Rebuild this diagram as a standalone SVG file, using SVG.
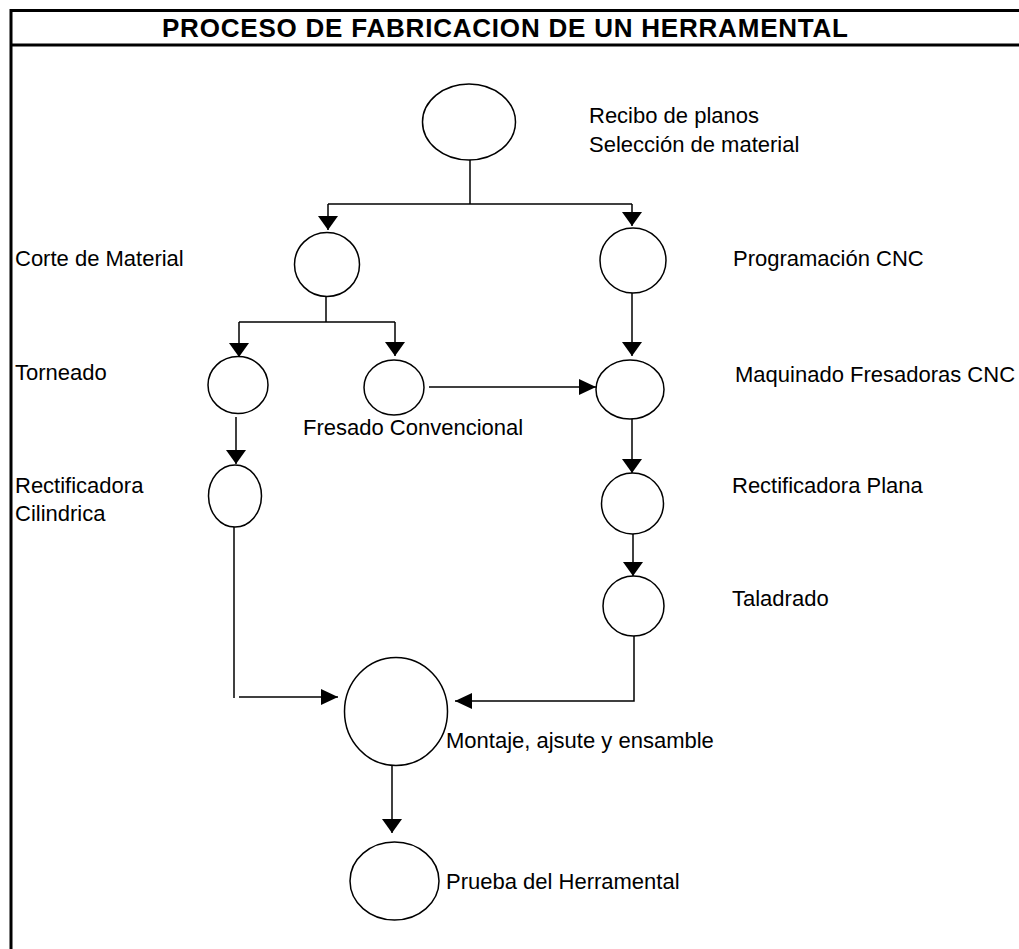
<svg xmlns="http://www.w3.org/2000/svg" width="1019" height="949" viewBox="0 0 1019 949">
  <style>
    .frame { stroke: #000; stroke-width: 3; fill: none; }
    .node { fill: #fff; stroke: #000; stroke-width: 1.5; }
    .wire { fill: none; stroke: #000; stroke-width: 1.5; }
    .arrow-v { marker-end: url(#head-v); }
    .arrow-h { marker-end: url(#head-h); }
    .label { font-family: "Liberation Sans", Arial, sans-serif; font-size: 22px; fill: #000; }
    .title { font-family: "Liberation Sans", Arial, sans-serif; font-size: 26px; font-weight: bold; fill: #000; }
  </style>
  <defs>
    <!-- vertical flow arrowhead: 14 long, 20 wide -->
    <marker id="head-v" markerUnits="userSpaceOnUse" markerWidth="14" markerHeight="20" refX="14" refY="10" orient="auto" viewBox="0 0 14 20">
      <path d="M0,0 L14,10 L0,20 Z" fill="#000"/>
    </marker>
    <!-- horizontal flow arrowhead: 17 long, 16 wide -->
    <marker id="head-h" markerUnits="userSpaceOnUse" markerWidth="17" markerHeight="16" refX="17" refY="8" orient="auto" viewBox="0 0 17 16">
      <path d="M0,0 L17,8 L0,16 Z" fill="#000"/>
    </marker>
  </defs>

  <rect width="1019" height="949" fill="#fff"/>

  <!-- sheet frame and title band -->
  <g id="frame">
    <line class="frame" x1="11" y1="9" x2="11" y2="949"/>
    <line class="frame" x1="10" y1="10.5" x2="1019" y2="10.5"/>
    <line class="frame" x1="10" y1="45" x2="1019" y2="45"/>
    <text class="title" x="505" y="37" text-anchor="middle" textLength="686" lengthAdjust="spacing">PROCESO DE FABRICACION DE UN HERRAMENTAL</text>
  </g>

  <!-- connectors -->
  <g id="connectors">
    <line class="wire" x1="470" y1="160" x2="470" y2="204"/>
    <line class="wire" x1="328" y1="204" x2="632" y2="204"/>
    <line class="wire arrow-v" x1="328" y1="204" x2="328" y2="230"/>
    <line class="wire arrow-v" x1="632" y1="204" x2="632" y2="226"/>

    <line class="wire" x1="326" y1="297" x2="326" y2="322"/>
    <line class="wire" x1="239" y1="322" x2="395" y2="322"/>
    <line class="wire arrow-v" x1="239" y1="322" x2="239" y2="357"/>
    <line class="wire arrow-v" x1="395" y1="322" x2="395" y2="356"/>

    <line class="wire arrow-v" x1="236" y1="417" x2="236" y2="464"/>
    <line class="wire arrow-h" x1="429" y1="387" x2="596" y2="387"/>

    <line class="wire arrow-v" x1="632" y1="293" x2="632" y2="356"/>
    <line class="wire arrow-v" x1="632" y1="419" x2="632" y2="473"/>
    <line class="wire arrow-v" x1="633" y1="534" x2="633" y2="576"/>

    <polyline class="wire arrow-h" points="634,636 634,701 455,701"/>
    <line class="wire" x1="234" y1="527" x2="234" y2="698"/>
    <line class="wire arrow-h" x1="239" y1="697" x2="338" y2="697"/>

    <line class="wire arrow-v" x1="392" y1="766" x2="392" y2="833"/>
  </g>

  <g id="n-recibo">
    <ellipse class="node" cx="469" cy="122" rx="46.5" ry="38"/>
    <text class="label" x="589" y="123">Recibo de planos</text>
    <text class="label" x="589" y="152">Selección de material</text>
  </g>

  <g id="n-corte">
    <ellipse class="node" cx="327" cy="264.5" rx="32.5" ry="32"/>
    <text class="label" x="15" y="266">Corte de Material</text>
  </g>

  <g id="n-programacion">
    <ellipse class="node" cx="633" cy="260.5" rx="33" ry="32.5"/>
    <text class="label" x="733" y="266">Programación CNC</text>
  </g>

  <g id="n-torneado">
    <ellipse class="node" cx="238" cy="385" rx="30" ry="28.5"/>
    <text class="label" x="15" y="380">Torneado</text>
  </g>

  <g id="n-fresado">
    <ellipse class="node" cx="394" cy="387.5" rx="30" ry="27.5"/>
    <text class="label" x="303" y="435">Fresado Convencional</text>
  </g>

  <g id="n-maquinado">
    <ellipse class="node" cx="630" cy="389.5" rx="34" ry="29.5"/>
    <text class="label" x="735" y="382">Maquinado Fresadoras CNC</text>
  </g>

  <g id="n-rect-cilindrica">
    <ellipse class="node" cx="235" cy="496" rx="26.5" ry="31"/>
    <text class="label" x="15" y="493">Rectificadora</text>
    <text class="label" x="15" y="521">Cilindrica</text>
  </g>

  <g id="n-rect-plana">
    <ellipse class="node" cx="632.5" cy="503.5" rx="31" ry="30.5"/>
    <text class="label" x="732" y="493">Rectificadora Plana</text>
  </g>

  <g id="n-taladrado">
    <ellipse class="node" cx="633.5" cy="606" rx="30.5" ry="30"/>
    <text class="label" x="732" y="606">Taladrado</text>
  </g>

  <g id="n-montaje">
    <ellipse class="node" cx="396" cy="711.5" rx="51.5" ry="54"/>
    <text class="label" x="446" y="748">Montaje, ajsute y ensamble</text>
  </g>

  <g id="n-prueba">
    <ellipse class="node" cx="394.5" cy="881" rx="44.5" ry="39"/>
    <text class="label" x="446" y="889">Prueba del Herramental</text>
  </g>
</svg>
